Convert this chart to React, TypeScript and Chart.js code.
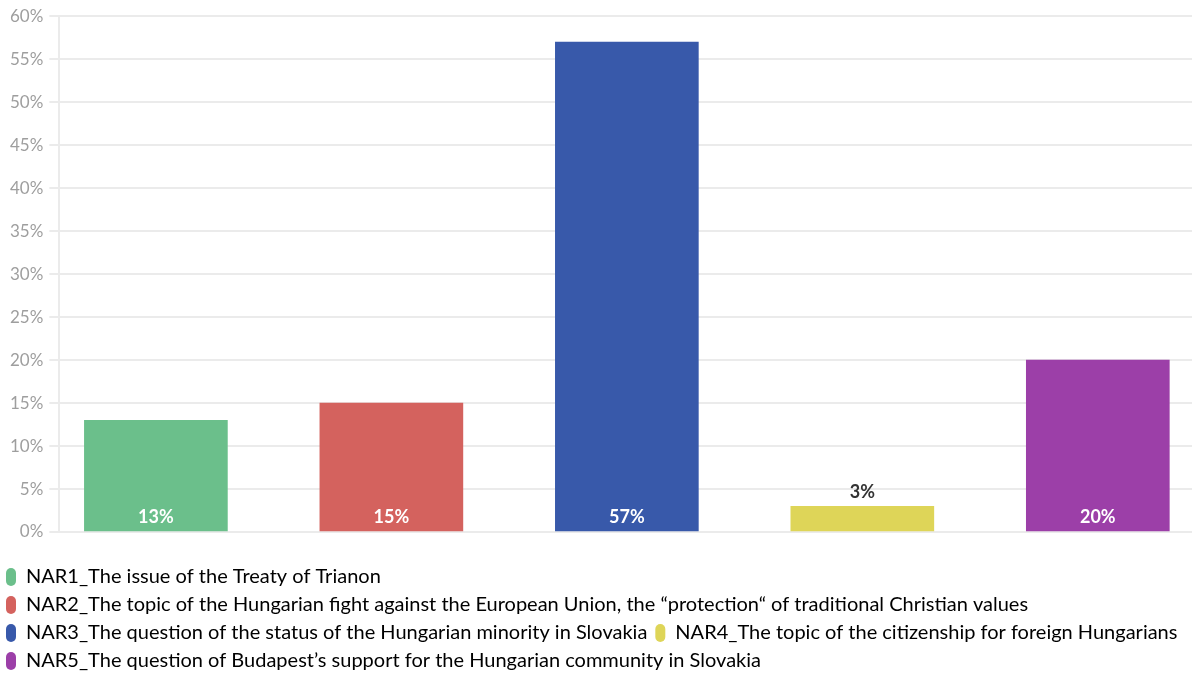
import React, { useEffect, useRef } from "react";
import { Chart, registerables } from "chart.js";

Chart.register(...registerables);

const categories = [
  "NAR1_The issue of the Treaty of Trianon",
  "NAR2_The topic of the Hungarian fight against the European Union, the \u201cprotection\u201c of traditional Christian values",
  "NAR3_The question of the status of the Hungarian minority in Slovakia",
  "NAR4_The topic of the citizenship for foreign Hungarians",
  "NAR5_The question of Budapest\u2019s support for the Hungarian community in Slovakia",
];
const values = [13, 15, 57, 3, 20];
const colors = ["#6bbf8b", "#d4625e", "#3859aa", "#ded558", "#9c3fa8"];
const yTicks = { min: 0, max: 60, step: 5 };

const FONT = "Lato, 'Open Sans', sans-serif";

const labelPlugin = {
  id: "barLabels",
  afterDatasetsDraw(chart: any) {
    const ctx = chart.ctx;
    const meta = chart.getDatasetMeta(0);
    ctx.save();
    ctx.font = `bold 18px ${FONT}`;
    ctx.textAlign = "center";
    ctx.textBaseline = "middle";
    meta.data.forEach((bar: any, i: number) => {
      const v = values[i];
      const txt = v + "%";
      const h = bar.base - bar.y;
      if (h < 30) {
        ctx.fillStyle = "#333333";
        ctx.fillText(txt, bar.x, bar.y - 14);
      } else {
        ctx.fillStyle = "#ffffff";
        ctx.fillText(txt, bar.x, bar.base - 14);
      }
    });
    ctx.restore();
  },
};

const legendShift = {
  id: "legendShift",
  afterLayout(chart: any) {
    if (chart.legend) chart.legend.left -= 6;
  },
};

export default function App() {
  const ref = useRef<HTMLCanvasElement>(null);
  useEffect(() => {
    document.body.style.overflow = "hidden";
    const chart = new Chart(ref.current as HTMLCanvasElement, {
      type: "bar",
      data: {
        datasets: [
          {
            data: values.map((v, i) => ({ x: i, y: v })),
            backgroundColor: colors,
            borderWidth: 0,
            barThickness: 143,
          } as any,
        ],
      },
      options: {
        animation: false,
        responsive: false,
        maintainAspectRatio: false,
        layout: { padding: { top: 8, right: 0, left: 4, bottom: -6 } },
        scales: {
          x: {
            type: "linear",
            min: -0.41,
            max: 4.4,
            bounds: "data",
            offset: false,
            display: true,
            ticks: { display: false },
            grid: { display: false, drawTicks: false, offset: false },
            border: { display: false },
            afterFit: (scale: any) => {
              scale.height += 27;
            },
          },
          y: {
            min: yTicks.min,
            max: yTicks.max,
            ticks: {
              stepSize: yTicks.step,
              color: "#9e9e9e",
              font: { family: FONT, size: 17 },
              padding: 6,
              callback: (v: any) => v + "%",
            },
            grid: { color: "#ebebeb", lineWidth: 2, tickLength: 10 },
            border: { display: true, color: "#ebebeb", width: 2 },
          },
        },
        plugins: {
          tooltip: { enabled: false },
          legend: {
            position: "bottom",
            align: "start",
            labels: {
              font: { family: FONT, size: 20 },
              color: "#444444",
              boxWidth: 10,
              boxHeight: 18,
              padding: 8,
              useBorderRadius: true,
              borderRadius: 5,
              generateLabels: () =>
                categories.map((c, i) => ({
                  text: c,
                  fillStyle: colors[i],
                  strokeStyle: colors[i],
                  lineWidth: 0,
                  borderRadius: 5,
                  hidden: false,
                  index: i,
                  datasetIndex: 0,
                })),
            },
          },
        },
      } as any,
      plugins: [labelPlugin, legendShift],
    });
    return () => chart.destroy();
  }, []);
  return (
    <div style={{ position: "absolute", left: 0, top: 0, width: 1192, height: 675 }}>
      <canvas ref={ref} width={1192} height={675} />
    </div>
  );
}
